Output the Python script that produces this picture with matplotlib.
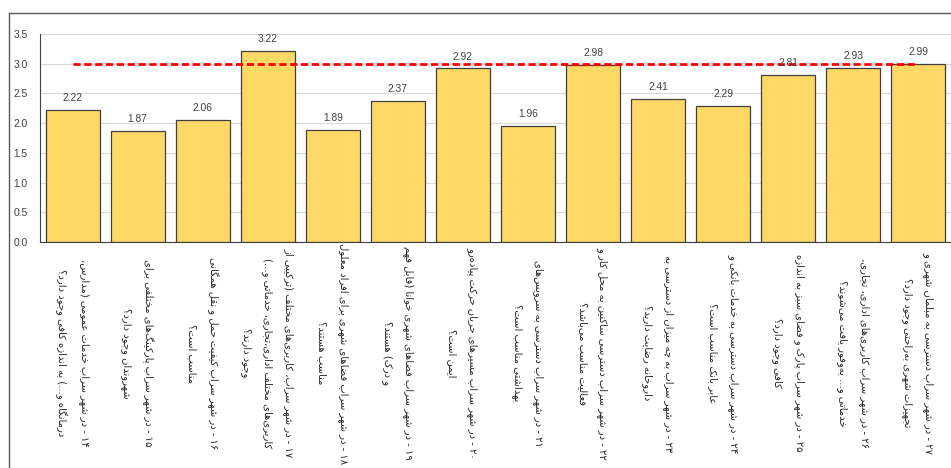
import re
import matplotlib
matplotlib.use("Agg")
import matplotlib.pyplot as plt
from matplotlib.lines import Line2D

# ---------------- data ----------------
categories = [
    "۱۴ - در شهر سراب خدمات عمومی (مدارس،\nدرمانگاه و...) به اندازه کافی وجود دارد؟",
    "۱۵ - در شهر سراب پارکینگ‌های مختلفی برای\nشهروندان وجود دارد؟",
    "۱۶ - در شهر سراب کیفیت حمل و نقل همگانی\nمناسب است؟",
    "۱۷ - در شهر سراب، کاربری‌های مختلف (ترکیبی از\nکاربری‌های مختلف اداری،تجاری، خدماتی و...)\nوجود دارند؟",
    "۱۸ - در شهر سراب فضاهای شهری برای افراد معلول\nمناسب هستند؟",
    "۱۹ - در شهر سراب فضاهای شهری خوانا (قابل فهم\nو درک) هستند؟",
    "۲۰ - در شهر سراب مسیرهای جریان حرکت پیاده‌رو\nایمن است؟",
    "۲۱ - در شهر سراب دسترسی به سرویس‌های\nبهداشتی مناسب است؟",
    "۲۲ - در شهر سراب دسترسی ساکنین به محل کار و\nفعالیت مناسب می‌باشد؟",
    "۲۳ - در شهر سراب به چه میزان از دسترسی به\nداروخانه رضایت دارید؟",
    "۲۴ - در شهر سراب دسترسی به خدمات بانکی و\nعابر بانک مناسب است؟",
    "۲۵ - در شهر سراب پارک و فضای سبز به اندازه\nکافی وجود دارد؟",
    "۲۶ - در شهر سراب کاربری‌های اداری، تجاری،\nخدماتی و... به‌وفور یافت می‌شوند؟",
    "۲۷ - در شهر سراب دسترسی به مبلمان شهری و\nتجهیزات شهری به‌راحتی وجود دارد؟",
]
values = [2.22, 1.87, 2.06, 3.22, 1.89, 2.37, 2.92, 1.96, 2.98, 2.41, 2.29, 2.81, 2.93, 2.99]
reference_value = 3.0
y_ticks = [0.0, 0.5, 1.0, 1.5, 2.0, 2.5, 3.0, 3.5]

# ---------------- minimal Persian shaping + RTL ordering ----------------
FOUR = {'ئ': 0xFE89, 'ب': 0xFE8F, 'ت': 0xFE95, 'ث': 0xFE99, 'ج': 0xFE9D, 'ح': 0xFEA1,
        'خ': 0xFEA5, 'س': 0xFEB1, 'ش': 0xFEB5, 'ص': 0xFEB9, 'ض': 0xFEBD, 'ط': 0xFEC1,
        'ظ': 0xFEC5, 'ع': 0xFEC9, 'غ': 0xFECD, 'ف': 0xFED1, 'ق': 0xFED5, 'ك': 0xFED9,
        'ل': 0xFEDD, 'م': 0xFEE1, 'ن': 0xFEE5, 'ه': 0xFEE9, 'ي': 0xFEF1,
        'پ': 0xFB56, 'چ': 0xFB7A, 'گ': 0xFB92, 'ک': 0xFB8E, 'ی': 0xFBFC}
TWO = {'آ': 0xFE81, 'أ': 0xFE83, 'ؤ': 0xFE85, 'إ': 0xFE87, 'ا': 0xFE8D, 'ة': 0xFE93,
       'د': 0xFEA9, 'ذ': 0xFEAB, 'ر': 0xFEAD, 'ز': 0xFEAF, 'و': 0xFEED, 'ى': 0xFEEF,
       'ژ': 0xFB8A}


def shape(s):
    out = []
    n = len(s)
    i = 0
    while i < n:
        c = s[i]
        prev_connect = i > 0 and s[i - 1] in FOUR
        if c == 'ل' and i + 1 < n and s[i + 1] == 'ا':
            out.append(chr(0xFEFC if prev_connect else 0xFEFB))
            i += 2
            continue
        nxt = s[i + 1] if i + 1 < n else ''
        next_connect = nxt in FOUR or nxt in TWO
        if c in FOUR:
            b = FOUR[c]
            if prev_connect and next_connect:
                out.append(chr(b + 3))
            elif prev_connect:
                out.append(chr(b + 1))
            elif next_connect:
                out.append(chr(b + 2))
            else:
                out.append(chr(b))
        elif c in TWO:
            b = TWO[c]
            out.append(chr(b + 1 if prev_connect else b))
        elif c == '\u200c':
            pass
        else:
            out.append(c)
        i += 1
    return ''.join(out)


MIRROR = {'(': ')', ')': '('}


def rtl(text):
    lines = []
    for line in text.split('\n'):
        runs = re.findall(r'[0-9\u06F0-\u06F9]+|.', shape(line), flags=re.S)
        lines.append(''.join(MIRROR.get(r, r) for r in reversed(runs)))
    return '\n'.join(lines)


# ---------------- figure ----------------
W, H = 951, 468
fig = plt.figure(figsize=(W / 100, H / 100), dpi=100)
ax = fig.add_axes([40 / W, 1 - 242 / H, (W - 40) / W, 208 / H])

x = list(range(len(values)))
ax.bar(x, values, width=0.83, color='#FFD966', edgecolor='#3F3F3F', linewidth=0.9, zorder=2)
ax.plot([x[0], x[-1]], [reference_value, reference_value], color='#FF0000',
        linewidth=2.0, linestyle=(0, (2.6, 1.3)), zorder=3)

for xi, v in zip(x, values):
    ax.annotate(f'{v:.2f}', (xi, v), xytext=(0, 5), textcoords='offset points',
                ha='center', va='bottom', fontsize=7.4, color='#404040',
                family='Liberation Sans', zorder=4)

ax.set_xlim(-0.5, len(values) - 0.5)
ax.set_ylim(0, 3.5)
ax.set_yticks(y_ticks)
ax.set_yticklabels([f'{t:.1f}' for t in y_ticks], fontsize=7.4, color='#404040',
                   family='Liberation Sans')
ax.yaxis.grid(True, color='#D9D9D9', linewidth=0.8, zorder=0)
ax.set_axisbelow(True)
for s in ('top', 'right'):
    ax.spines[s].set_visible(False)
ax.spines['left'].set_color('#404040')
ax.spines['bottom'].set_color('#404040')
ax.tick_params(axis='y', length=0, pad=9)
ax.tick_params(axis='x', length=0, pad=80)

ax.set_xticks(x)
ax.set_xticklabels([rtl(c) for c in categories], rotation=-90, ha='center', va='center',
                   multialignment='center', fontsize=7.2, family='DejaVu Sans',
                   color='#262626', linespacing=2.3)

# chart area border (cropped at right/bottom)
fig.add_artist(Line2D([9 / W, 1], [1 - 13 / H, 1 - 13 / H], transform=fig.transFigure,
                      color='#595959', linewidth=1.0))
fig.add_artist(Line2D([9 / W, 9 / W], [0, 1 - 13 / H], transform=fig.transFigure,
                      color='#595959', linewidth=1.0))

fig.savefig('out.png', dpi=100)
